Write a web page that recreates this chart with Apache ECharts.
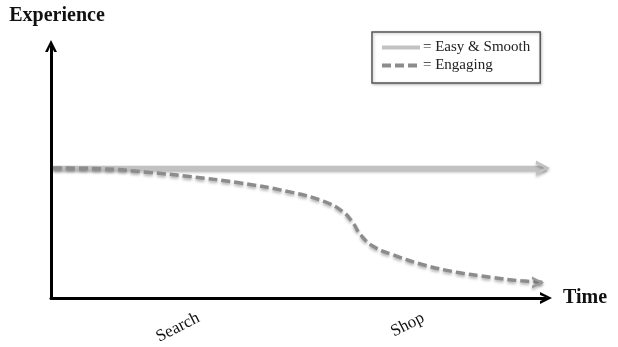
<!DOCTYPE html>
<html>
<head>
<meta charset="utf-8">
<script src="https://cdn.jsdelivr.net/npm/echarts@6/dist/echarts.min.js"></script>
<style>
  html, body { margin: 0; padding: 0; background: #fff; }
  #chart { width: 618px; height: 347px; }
</style>
</head>
<body>
<div id="chart"></div>
<script>
// stage labels along the time axis
const stageNames = ['Search', 'Shop']
const stageX = [29.8, 75.2]

// "Easy & Smooth" - flat line
const smoothX = [0.4, 100]
const smoothY = [51.6, 51.6]

// "Engaging" - dashed curve dropping off
const engagingX = [0.4, 10, 20, 28, 38, 48, 55, 59, 61, 62.5, 65, 69, 75, 82, 89, 95, 99.6]
const engagingY = [51.6, 51.3, 49.8, 48.2, 45.7, 42.2, 38.4, 34.2, 29.8, 25.2, 20.6, 17.2, 13.3, 10.2, 8.2, 6.8, 6.2]

const serif = '"Liberation Serif", "DejaVu Serif", serif'
const chevronRight = 'path://M0,0 L10,5 L0,10 L0,7.6 L6.2,5 L0,2.4 Z'
const chevronUp = 'path://M0,10 L5,0 L10,10 L7.6,10 L5,3.8 L2.4,10 Z'

const pairs = (xs, ys) => xs.map((x, i) => [x, ys[i]])
const last = (xs, ys) => [xs[xs.length - 1], ys[ys.length - 1]]

const shadow = {
  shadowColor: 'rgba(0,0,0,0.3)',
  shadowBlur: 3,
  shadowOffsetY: 2
}

const chart = echarts.init(document.getElementById('chart'))

chart.setOption({
  animation: false,
  grid: { left: 51, right: 72, top: 46, bottom: 49 },
  legend: {
    orient: 'vertical',
    left: 372,
    top: 32,
    padding: [8, 10, 10, 8],
    itemGap: 3,
    itemWidth: 38,
    itemHeight: 14,
    borderColor: '#555',
    borderWidth: 1.5,
    backgroundColor: '#fff',
    shadowColor: 'rgba(0,0,0,0.25)',
    shadowBlur: 3,
    shadowOffsetX: 1,
    shadowOffsetY: 1,
    itemStyle: { opacity: 0 },
    lineStyle: { width: 4 },
    formatter: name => '= ' + name,
    textStyle: { fontFamily: serif, fontSize: 15, color: '#222', padding: [0, 0, 0, -2] },
    data: ['Easy & Smooth', 'Engaging']
  },
  xAxis: {
    type: 'value',
    min: 0,
    max: 100,
    name: 'Time',
    nameLocation: 'end',
    nameGap: 17,
    nameTextStyle: { fontFamily: serif, fontSize: 20, fontWeight: 'bold', color: '#111' },
    splitLine: { show: false },
    axisTick: { show: false },
    axisLine: {
      lineStyle: { color: '#000', width: 3 },
      symbol: ['none', chevronUp],
      symbolSize: [12, 12]
    },
    axisLabel: {
      customValues: stageX,
      formatter: v => stageNames[stageX.indexOf(v)] || '',
      rotate: 27,
      margin: 19,
      fontFamily: serif,
      fontSize: 17,
      color: '#111'
    }
  },
  yAxis: {
    type: 'value',
    min: 0,
    max: 100,
    name: 'Experience',
    nameLocation: 'end',
    nameGap: 20,
    nameTextStyle: { fontFamily: serif, fontSize: 20, fontWeight: 'bold', color: '#111', padding: [0, 0, 0, 12] },
    splitLine: { show: false },
    axisTick: { show: false },
    axisLabel: { show: false },
    axisLine: {
      lineStyle: { color: '#000', width: 3 },
      symbol: ['none', chevronUp],
      symbolSize: [12, 12]
    }
  },
  series: [
    {
      name: 'Easy & Smooth',
      type: 'line',
      clip: false,
      symbol: 'none',
      data: pairs(smoothX, smoothY),
      lineStyle: Object.assign({ color: '#c2c2c2', width: 4.5 }, shadow),
      itemStyle: { color: '#c2c2c2' },
      markPoint: {
        symbol: chevronRight,
        symbolSize: [14, 15],
        symbolOffset: [-3, 0],
        itemStyle: Object.assign({ color: '#c2c2c2' }, shadow),
        label: { show: false },
        data: [{ coord: last(smoothX, smoothY) }]
      }
    },
    {
      name: 'Engaging',
      type: 'line',
      clip: false,
      symbol: 'none',
      smooth: 0.45,
      data: pairs(engagingX, engagingY),
      lineStyle: Object.assign({ color: '#8c8c8c', width: 3.5, type: [9, 4] }, shadow),
      itemStyle: { color: '#8c8c8c' },
      markPoint: {
        symbol: chevronRight,
        symbolSize: [12, 12],
        symbolOffset: ['-50%', 0],
        itemStyle: Object.assign({ color: '#999' }, shadow),
        label: { show: false },
        data: [{ coord: last(engagingX, engagingY) }]
      }
    }
  ]
})
</script>
</body>
</html>
